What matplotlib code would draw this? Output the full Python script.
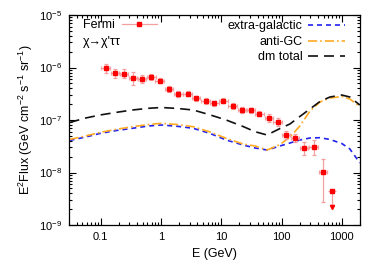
import numpy as np
import matplotlib
matplotlib.use("Agg")
import matplotlib.pyplot as plt
from matplotlib.ticker import LogLocator, FixedLocator, FixedFormatter, NullFormatter
from matplotlib.lines import Line2D
from matplotlib.legend_handler import HandlerTuple

plt.rcParams['font.family'] = ['Liberation Sans', 'DejaVu Sans']
plt.rcParams['mathtext.fontset'] = 'custom'
plt.rcParams['mathtext.rm'] = 'Liberation Sans'
plt.rcParams['mathtext.it'] = 'Liberation Sans:italic'

# ---------------- data ----------------
fermi_E = [0.121, 0.172, 0.243, 0.342, 0.489, 0.697, 0.955, 1.37, 1.95, 2.77,
           3.86, 5.50, 7.74, 10.9, 15.4, 22.0, 31.0, 43.0, 61.4, 86.5,
           119, 169, 238, 340, 485]
fermi_F = [9.67e-7, 7.76e-7, 7.62e-7, 6.22e-7, 6.04e-7, 6.50e-7, 5.61e-7, 3.89e-7, 3.13e-7, 3.17e-7,
           2.57e-7, 2.30e-7, 2.08e-7, 2.33e-7, 1.85e-7, 1.55e-7, 1.53e-7, 1.32e-7, 1.09e-7, 9.16e-8,
           5.18e-8, 4.58e-8, 2.97e-8, 3.10e-8, 1.01e-8]
# errors in dex (lower, upper)
fermi_err_lo = [0.09, 0.085, 0.09, 0.13, 0.07, 0.06, 0.05, 0.05, 0.05, 0.05,
                0.05, 0.05, 0.05, 0.05, 0.05, 0.05, 0.05, 0.05, 0.07, 0.07,
                0.08, 0.08, 0.14, 0.16, 0.57]
fermi_err_hi = [0.09, 0.085, 0.09, 0.13, 0.07, 0.06, 0.05, 0.05, 0.05, 0.05,
                0.05, 0.05, 0.05, 0.05, 0.05, 0.05, 0.05, 0.05, 0.07, 0.07,
                0.08, 0.08, 0.11, 0.12, 0.25]
fermi_xerr_dex = 0.07
# upper limit point
ul_E = [692]
ul_F = [4.50e-9]
ul_F_arrow = [2.25e-9]

curve_E = [0.0307, 0.0565, 0.1, 0.184, 0.338, 0.621, 1.02, 1.87, 3.44, 6.58,
           12.1, 23.1, 36.5, 57.6, 94.4, 138, 202, 296, 433, 634,
           1000, 1356, 1986]
extragalactic = [4.07e-8, 4.74e-8, 5.58e-8, 6.31e-8, 6.95e-8, 7.69e-8, 8.03e-8, 7.59e-8, 6.95e-8, 5.53e-8,
                 4.16e-8, 3.34e-8, 2.93e-8, 2.68e-8, 3.20e-8, 3.65e-8, 4.16e-8, 4.54e-8, 4.60e-8, 4.26e-8,
                 3.56e-8, 2.81e-8, 1.52e-8]
anti_gc = [4.26e-8, 4.96e-8, 5.83e-8, 6.65e-8, 7.45e-8, 8.20e-8, 8.65e-8, 8.20e-8, 7.45e-8, 5.90e-8,
           4.48e-8, 3.49e-8, 3.20e-8, 2.68e-8, 3.41e-8, 4.74e-8, 7.69e-8, 1.48e-7, 2.20e-7, 2.62e-7,
           2.80e-7, 2.51e-7, 1.81e-7]
dm_total = [8.96e-8, 1.09e-7, 1.25e-7, 1.40e-7, 1.55e-7, 1.67e-7, 1.73e-7, 1.66e-7, 1.55e-7, 1.25e-7,
            1.00e-7, 7.51e-8, 5.98e-8, 5.18e-8, 6.89e-8, 8.40e-8, 1.17e-7, 1.62e-7, 2.25e-7, 2.74e-7,
            2.99e-7, 2.74e-7, 1.93e-7]

xticks = [0.1, 1, 10, 100, 1000]
xticklabels = ['0.1', '1', '10', '100', '1000']

# ---------------- figure ----------------
W, H = 379, 266
fig = plt.figure(figsize=(W/100, H/100), dpi=100)
ax = fig.add_axes([69/W, 1-225/H, (360-69)/W, (225-15)/H])
ax.set_xscale('log')
ax.set_yscale('log')
ax.set_xlim(0.03, 2000)
ax.set_ylim(1e-9, 1e-5)

fs = 9
tfs = 8
errc = '#f4a0a0'
mc = '#ff0000'

E = np.array(fermi_E)
F = np.array(fermi_F)
ylo = F - F / 10**np.array(fermi_err_lo)
yhi = F * 10**np.array(fermi_err_hi) - F
xlo = E - E / 10**fermi_xerr_dex
xhi = E * 10**fermi_xerr_dex - E
ax.errorbar(E, F, yerr=[ylo, yhi], xerr=[xlo, xhi], fmt='s', color=mc, ms=3,
            ecolor=errc, elinewidth=0.9, capsize=1.5, capthick=0.9, zorder=5)

uE = np.array(ul_E)
uF = np.array(ul_F)
uA = np.array(ul_F_arrow)
ax.errorbar(uE, uF, yerr=[uF - uA, np.zeros_like(uF)],
            xerr=[uE - uE / 10**fermi_xerr_dex, uE * 10**fermi_xerr_dex - uE],
            fmt='s', color=mc, ms=3, ecolor=errc, elinewidth=0.9, capsize=0, zorder=5)
ax.plot(uE, uA, marker='v', color=mc, ms=3, ls='none', zorder=5)

lw = 1.2
l_eg, = ax.plot(curve_E, extragalactic, color='#2222ee', lw=lw, dashes=(3, 2.4))
l_gc, = ax.plot(curve_E, anti_gc, color='#ffaa22', lw=lw, dashes=(5.5, 1.8, 1, 1.8))
l_dm, = ax.plot(curve_E, dm_total, color='#111111', lw=lw, dashes=(6, 3.6))

ax.xaxis.set_major_locator(FixedLocator(xticks))
ax.xaxis.set_major_formatter(FixedFormatter(xticklabels))
ax.xaxis.set_minor_locator(LogLocator(base=10, subs=np.arange(2, 10), numticks=20))
ax.xaxis.set_minor_formatter(NullFormatter())
ax.yaxis.set_major_locator(LogLocator(base=10, numticks=10))
ax.yaxis.set_minor_locator(LogLocator(base=10, subs=np.arange(2, 10), numticks=20))
ax.yaxis.set_minor_formatter(NullFormatter())

ax.tick_params(which='both', direction='in', top=True, right=True, labelsize=tfs, width=0.8)
ax.tick_params(which='major', length=4.8, pad=5)
ax.tick_params(which='minor', length=2.4)
for s in ax.spines.values():
    s.set_linewidth(0.9)

ax.set_xlabel('E (GeV)', fontsize=fs, labelpad=4)
ax.set_ylabel('E$^2$Flux (GeV cm$^{-2}$ s$^{-1}$ sr$^{-1}$)', fontsize=fs, labelpad=3)

# left legend (Fermi) with text before handle
h_line = Line2D([], [], color=errc, lw=0.9, marker='|', ms=3, markevery=[0, -1])
h_mark = Line2D([], [], color=mc, marker='s', ms=3, ls='none')
leg1 = ax.legend([(h_line, h_mark)], ['Fermi'], handler_map={tuple: HandlerTuple(ndivide=1)},
                 loc='upper left', bbox_to_anchor=(83/W, 1-19.5/H), bbox_transform=fig.transFigure,
                 markerfirst=False, frameon=False, fontsize=fs, handlelength=2.8,
                 borderpad=0, borderaxespad=0, handletextpad=0.55, numpoints=1)
ax.add_artist(leg1)
fig.text(83/W, 1-41.7/H, "χ→χ'ττ", fontsize=fs, va='center', ha='left')

leg2 = ax.legend([l_eg, l_gc, l_dm], ['extra-galactic', 'anti-GC', 'dm total'],
                 loc='upper right', bbox_to_anchor=(345/W, 1-20.5/H), bbox_transform=fig.transFigure,
                 markerfirst=False, frameon=False, fontsize=fs,
                 handlelength=3.0, borderpad=0, borderaxespad=0, handletextpad=0.4,
                 labelspacing=0.28)

fig.savefig('out.png', dpi=100)
